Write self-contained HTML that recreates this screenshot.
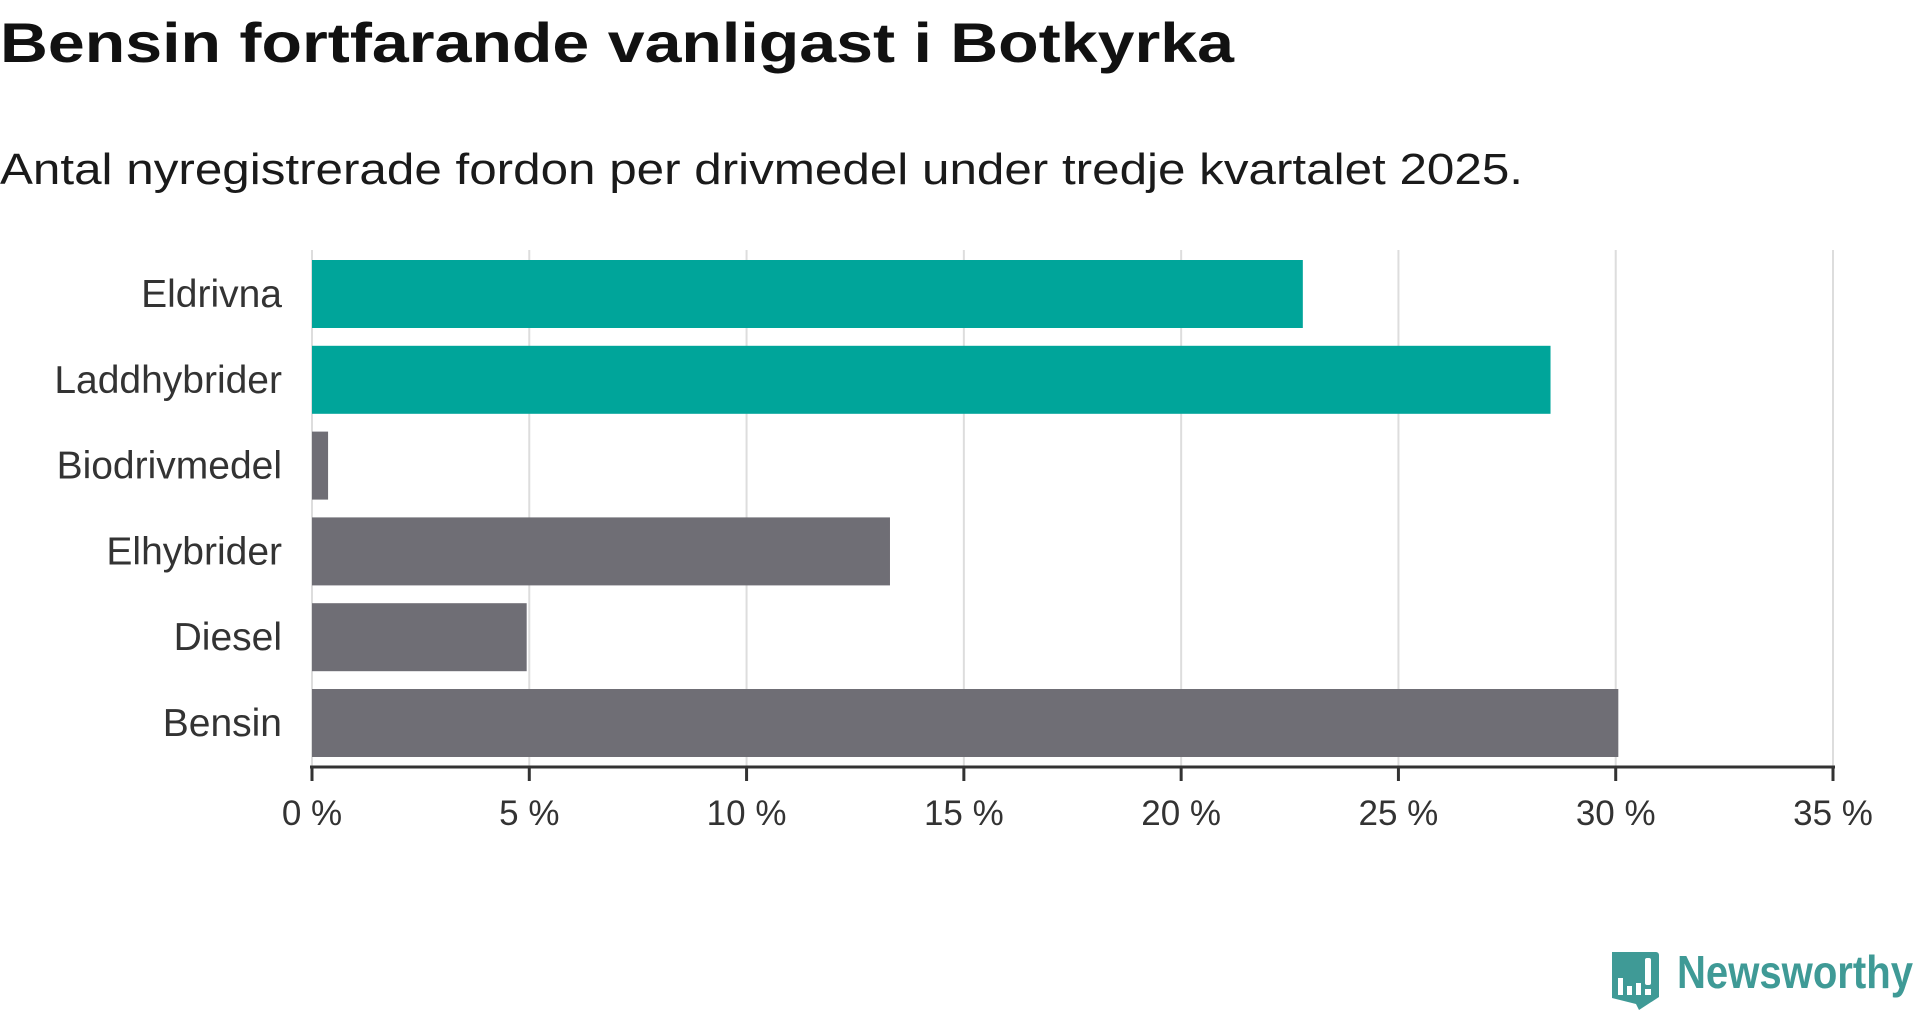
<!DOCTYPE html>
<html><head><meta charset="utf-8"><style>
body{margin:0;width:1920px;height:1010px;background:#fff;overflow:hidden;font-family:"Liberation Sans",sans-serif}
</style></head><body>
<svg width="1920" height="1010" xmlns="http://www.w3.org/2000/svg">
<text x="0" y="62" font-size="56" font-weight="bold" fill="#111" textLength="1234" lengthAdjust="spacingAndGlyphs">Bensin fortfarande vanligast i Botkyrka</text>
<text x="0" y="184" font-size="44" fill="#1a1a1a" textLength="1523" lengthAdjust="spacingAndGlyphs">Antal nyregistrerade fordon per drivmedel under tredje kvartalet 2025.</text>
<g id="grid"></g><g id="bars"></g><g id="axis"></g>
<g>
<path d="M1612 952 h44 a3 3 0 0 1 3 3 v42 l-20 13 l-3 -6 l-24 -6 z" fill="#3f9a96"/>
<rect x="1618" y="978" width="5" height="17" fill="#fff"/><rect x="1627" y="986" width="5" height="9" fill="#fff"/><rect x="1636" y="983" width="5" height="12" fill="#fff"/><rect x="1645" y="958" width="6" height="27" rx="2" fill="#fff"/><rect x="1645" y="989" width="6" height="6" fill="#fff"/>
<text x="1677" y="988" font-size="46" fill="#3f9a96" font-weight="bold" textLength="236" lengthAdjust="spacingAndGlyphs">Newsworthy</text>
</g>
</svg>
<script>
const categories=["Eldrivna","Laddhybrider","Biodrivmedel","Elhybrider","Diesel","Bensin"];
const values=[22.8,28.5,0.37,13.3,4.94,30.06];
const colors=["#00a59a","#00a59a","#6f6e75","#6f6e75","#6f6e75","#6f6e75"];
const ticks=[0,5,10,15,20,25,30,35];
const tickLabels=["0 %","5 %","10 %","15 %","20 %","25 %","30 %","35 %"];
const NS="http://www.w3.org/2000/svg";
const x=v=>312+v*(1833-312)/35;
const yTop=i=>260+i*85.8;
function mk(t,a,p){const e=document.createElementNS(NS,t);for(const k in a)e.setAttribute(k,a[k]);p.appendChild(e);return e;}
const g=document.getElementById('grid'),b=document.getElementById('bars'),ax=document.getElementById('axis');
ticks.forEach((t,i)=>{
 const l=mk('line',{x1:x(t),x2:x(t),y1:250,y2:767,stroke:'#ddd','stroke-width':2},g);
 
 
 const tk=mk('line',{x1:x(t),x2:x(t),y1:767,y2:781,stroke:'#333','stroke-width':3},ax);
 
 
 const tx=mk('text',{x:x(t),y:825,'font-size':35,'text-anchor':'middle',fill:'#333'},ax);
 tx.textContent=tickLabels[i];
 
 
});
const al=mk('line',{x1:310,x2:1835,y1:767,y2:767,stroke:'#333','stroke-width':3},ax);


categories.forEach((c,i)=>{
 const r=mk('rect',{x:x(0),y:yTop(i),width:x(values[i])-x(0),height:68,fill:colors[i]},b);
 
 
 const t=mk('text',{x:282,y:yTop(i)+47,'font-size':39,'text-anchor':'end',fill:'#333'},b);
 t.textContent=c;
 
 
});
</script>
</body></html>
